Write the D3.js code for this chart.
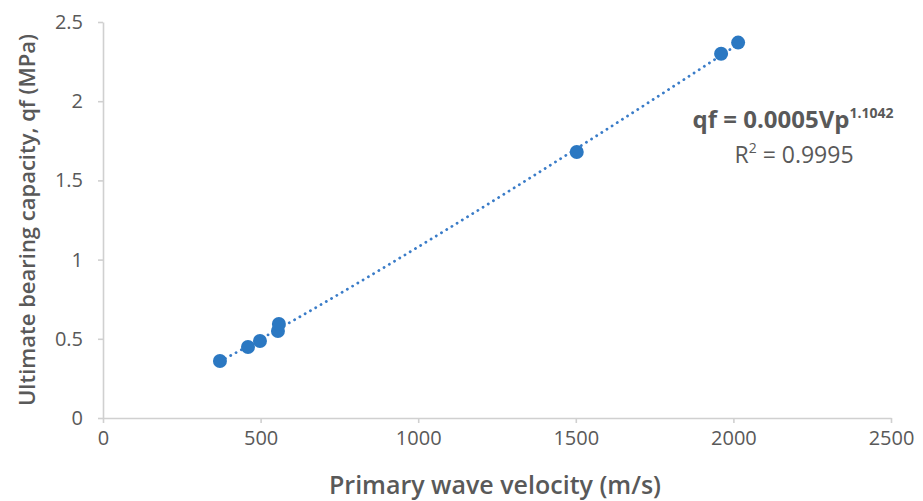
<!DOCTYPE html>
<html>
<head>
<meta charset="utf-8">
<script src="https://cdn.jsdelivr.net/npm/d3@7"></script>
<style>
  body { margin: 0; background: #fff; }
  text { font-family: "Open Sans", "Liberation Sans", sans-serif; fill: #595959; }
</style>
</head>
<body>
<div id="chart"></div>
<script>
// data
var velocity = [371, 460, 498, 555, 558, 1503, 1961, 2015];
var capacity = [0.36, 0.448, 0.486, 0.549, 0.593, 1.679, 2.30, 2.37];
var xTicks = [0, 500, 1000, 1500, 2000, 2500];
var yTicks = [0, 0.5, 1, 1.5, 2, 2.5];

var width = 923, height = 501;
var margin = {top: 22, right: 32, bottom: 83, left: 103};

var svg = d3.select("#chart")
  .append("svg")
    .attr("width", width)
    .attr("height", height);

var x = d3.scaleLinear()
  .domain([0, 2500])
  .range([margin.left, width - margin.right]);

var y = d3.scaleLinear()
  .domain([0, 2.5])
  .range([height - margin.bottom, margin.top]);

// X axis
var xAxis = svg.append("g")
  .attr("transform", "translate(0," + y(0) + ")")
  .call(d3.axisBottom(x).tickValues(xTicks).tickSize(5).tickSizeOuter(0).tickPadding(8)
    .tickFormat(function(d) { return d; }));

// Y axis
var yAxis = svg.append("g")
  .attr("transform", "translate(" + x(0) + ",0)")
  .call(d3.axisLeft(y).tickValues(yTicks).tickSize(5).tickSizeOuter(0).tickPadding(15)
    .tickFormat(function(d) { return d; }));

[xAxis, yAxis].forEach(function(a) {
  a.select(".domain").attr("stroke", "#d0d0d0").attr("stroke-width", 1.6);
  a.selectAll(".tick line").attr("stroke", "#d0d0d0").attr("stroke-width", 1.6);
  a.selectAll(".tick text")
    .attr("fill", "#5f5f5f")
    .style("font-size", "20px")
    .style("font-family", "'Open Sans', sans-serif");
});

// power trendline, least squares in log space
var lx = velocity.map(Math.log), ly = capacity.map(Math.log);
var mx = d3.mean(lx), my = d3.mean(ly);
var b = d3.sum(lx, function(v, i) { return (v - mx) * (ly[i] - my); }) /
        d3.sum(lx, function(v) { return (v - mx) * (v - mx); });
var a = Math.exp(my - b * mx);
var ext = d3.extent(velocity);
var trend = d3.range(ext[0], ext[1] + 1, 20).concat([ext[1]]);

svg.append("path")
  .datum(trend)
  .attr("fill", "none")
  .attr("stroke", "#3a7cc8")
  .attr("stroke-width", 2.8)
  .attr("stroke-linecap", "round")
  .attr("stroke-dasharray", "0.1 6")
  .attr("d", d3.line()
    .x(function(d) { return x(d); })
    .y(function(d) { return y(a * Math.pow(d, b)); }));

// points
svg.append("g")
  .selectAll("circle")
  .data(velocity)
  .enter().append("circle")
    .attr("cx", function(d) { return x(d); })
    .attr("cy", function(d, i) { return y(capacity[i]); })
    .attr("r", 7)
    .attr("fill", "#2b78c2");

// equation label
var eq = svg.append("text")
  .attr("x", 793)
  .attr("y", 128)
  .attr("text-anchor", "middle")
  .style("font-size", "24px")
  .style("font-weight", "700");
eq.append("tspan").text("qf = 0.0005Vp");
eq.append("tspan").attr("dy", -10).style("font-size", "14px").text("1.1042");

var r2 = svg.append("text")
  .attr("x", 794)
  .attr("y", 163)
  .attr("text-anchor", "middle")
  .style("font-size", "23px");
r2.append("tspan").text("R");
r2.append("tspan").attr("dy", -10).style("font-size", "14px").text("2");
r2.append("tspan").attr("dy", 10).text(" = 0.9995");

// axis titles
svg.append("text")
  .attr("x", 495)
  .attr("y", 494)
  .attr("text-anchor", "middle")
  .style("font-size", "25px")
  .style("font-weight", "600")
  .text("Primary wave velocity (m/s)");

svg.append("text")
  .attr("transform", "translate(35,220) rotate(-90)")
  .attr("text-anchor", "middle")
  .style("font-size", "22px")
  .style("font-weight", "600")
  .text("Ultimate bearing capacity, qf (MPa)");
</script>
</body>
</html>
